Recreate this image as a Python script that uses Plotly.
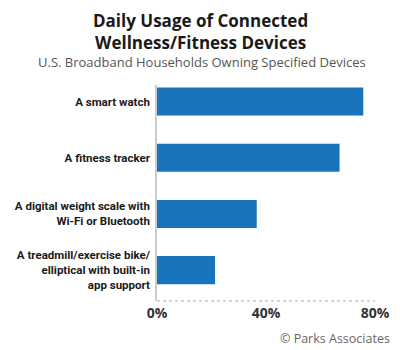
import plotly.graph_objects as go

categories = [
    "A smart watch",
    "A fitness tracker",
    "A digital weight scale with<br>Wi-Fi or Bluetooth",
    "A treadmill/exercise bike/<br>elliptical with built-in<br>app support",
]
values = [75.7, 67.0, 36.6, 21.3]
tick_vals = [0, 40, 80]
tick_text = ["0%", "40%", "80%"]

BAR = "#1874bc"
cat_font = "Roboto, sans-serif"

fig = go.Figure(go.Bar(
    x=values, y=categories, orientation="h",
    marker=dict(color=BAR, line=dict(width=0)),
    width=0.5, hoverinfo="skip",
))

fig.update_layout(
    width=400, height=350,
    margin=dict(l=157, r=25, t=85, b=49),
    paper_bgcolor="white", plot_bgcolor="white",
    showlegend=False,
    xaxis=dict(range=[0, 80], tickvals=tick_vals, ticktext=tick_text,
               showgrid=False, zeroline=False, showline=False, ticks="",
               tickfont=dict(family="Open Sans, sans-serif", size=14, color="#333333", weight="bold"),
               ticklabelstandoff=2, fixedrange=True, automargin=False),
    yaxis=dict(type="category", categoryorder="array", categoryarray=categories,
               range=[3.55, -0.295], showgrid=False, zeroline=False,
               showline=True, linecolor="#cccccc", linewidth=1.5, ticks="",
               tickfont=dict(family=cat_font, size=11.5, color="#1a1a1a", weight="bold"),
               ticklabelstandoff=3, fixedrange=True, automargin=False),
    shapes=[dict(type="line", xref="paper", yref="paper", x0=0, x1=1, y0=0, y1=0,
                 line=dict(color="#aaaaaa", width=1.2, dash="dot"))],
    annotations=[
        dict(text="<b>Daily Usage of Connected<br>Wellness/Fitness Devices</b>", xref="paper", yref="paper",
             x=(200 - 157) / 218, y=(301 - 31.5) / 216, xanchor="center", yanchor="middle",
             showarrow=False, font=dict(family="Open Sans, sans-serif", size=17, color="#1a1a1a")),
        dict(text="U.S. Broadband Households Owning Specified Devices", xref="paper", yref="paper",
             x=(202 - 157) / 218, y=(301 - 62) / 216, xanchor="center", yanchor="middle",
             showarrow=False, font=dict(family="Open Sans, sans-serif", size=13, color="#555555")),
        dict(text="© Parks Associates", xref="paper", yref="paper",
             x=(392 - 157) / 218, y=(301 - 338) / 216, xanchor="right", yanchor="middle",
             showarrow=False, font=dict(family="Open Sans, sans-serif", size=12.5, color="#666666")),
    ],
)

fig.write_html("out.html")
